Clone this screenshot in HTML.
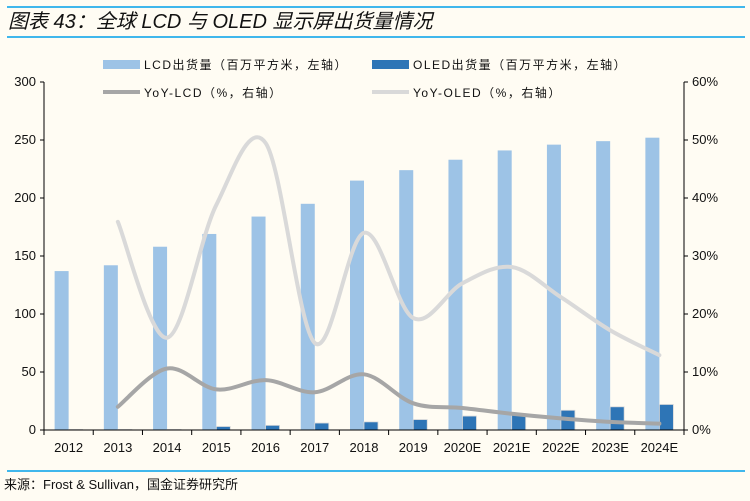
<!DOCTYPE html>
<html><head><meta charset="utf-8">
<style>
body{margin:0;background:#fffcf3;width:750px;height:496px;overflow:hidden;font-family:"Liberation Sans","Noto Sans CJK SC",sans-serif;}
</style></head><body>
<svg id="c" width="750" height="496" xmlns="http://www.w3.org/2000/svg" style="font-family:'Liberation Sans','Noto Sans CJK SC',sans-serif">
<rect width="750" height="496" fill="#fffcf3"/>
<line x1="7" y1="7" x2="745" y2="7" stroke="#00a0e9" stroke-width="1.5"/>
<text x="8" y="28" font-size="20" font-style="italic" fill="#111">图表 43：全球 LCD 与 OLED 显示屏出货量情况</text>
<line x1="7" y1="37" x2="745" y2="37" stroke="#00a0e9" stroke-width="1.5"/>
<line x1="7" y1="471" x2="745" y2="471" stroke="#00a0e9" stroke-width="1.5"/>
<text x="4" y="489" font-size="13" fill="#111">来源：Frost &amp; Sullivan，国金证券研究所</text>
<g font-size="12" fill="#111" letter-spacing="1.5">
<rect x="103" y="60" width="37" height="9" fill="#9dc3e6"/><text x="144" y="69">LCD出货量（百万平方米，左轴）</text>
<rect x="372" y="60" width="37" height="9" fill="#2e75b6"/><text x="413" y="69">OLED出货量（百万平方米，左轴）</text>
<line x1="103" y1="92" x2="140" y2="92" stroke="#a6a6a6" stroke-width="4"/><text x="144" y="97">YoY-LCD（%，右轴）</text>
<line x1="372" y1="92" x2="409" y2="92" stroke="#d9d9d9" stroke-width="4"/><text x="413" y="97">YoY-OLED（%，右轴）</text>
</g>
<g id="g"></g>
</svg>
<script>
const categories=["2012","2013","2014","2015","2016","2017","2018","2019","2020E","2021E","2022E","2023E","2024E"];
const lcdValues=[137,142,158,169,184,195,215,224,233,241,246,249,252];
const oledValues=[0.5,0.5,0.5,3,4,6,7,9,12,14,17,20,22];
const yoyLcd=[null,4.0,10.6,7.0,8.6,6.5,9.6,4.6,3.8,2.8,2.0,1.4,1.1];
const yoyOled=[null,35.9,15.9,38.8,49.5,15.0,34.0,19.3,25.3,28.1,22.9,17.2,12.9];
const leftTicks=[0,50,100,150,200,250,300];
const rightTicks=[0,10,20,30,40,50,60];
const L=44,R=684,T=82,B=430;
const bw=(R-L)/categories.length;
const yL=v=>B-(v/300)*(B-T);
const yR=v=>B-(v/60)*(B-T);
const xc=i=>L+bw*(i+0.5);
const g=document.getElementById('g');
const NS="http://www.w3.org/2000/svg";
function mk(t,a,p){const e=document.createElementNS(NS,t);for(const k in a)e.setAttribute(k,a[k]);(p||g).appendChild(e);return e;}
categories.forEach((c,i)=>{
 let r=mk('rect',{x:xc(i)-14,y:yL(lcdValues[i]),width:14,height:B-yL(lcdValues[i]),fill:'#9dc3e6'});
 
 let o=mk('rect',{x:xc(i),y:yL(oledValues[i]),width:14,height:B-yL(oledValues[i]),fill:'#2e75b6',stroke:'#d9d9d9','stroke-width':0.8});
 
 let t=mk('text',{x:xc(i),y:452,'font-size':13,'text-anchor':'middle',fill:'#111'});t.textContent=c;
 
 mk('line',{x1:L+bw*i,y1:B,x2:L+bw*i,y2:B+5,stroke:'#000'});
});
mk('line',{x1:R,y1:B,x2:R,y2:B+5,stroke:'#000'});
mk('line',{x1:L,y1:T,x2:L,y2:B,stroke:'#000'});
mk('line',{x1:R,y1:T,x2:R,y2:B,stroke:'#000'});
mk('line',{x1:L,y1:B,x2:R,y2:B,stroke:'#000'});
leftTicks.forEach(v=>{mk('line',{x1:L-4,y1:yL(v),x2:L,y2:yL(v),stroke:'#000'});
 let t=mk('text',{x:L-8,y:yL(v)+4,'font-size':13,'text-anchor':'end',fill:'#111'});t.textContent=v;
 });
rightTicks.forEach(v=>{mk('line',{x1:R,y1:yR(v),x2:R+4,y2:yR(v),stroke:'#000'});
 let t=mk('text',{x:R+8,y:yR(v)+4,'font-size':13,fill:'#111'});t.textContent=v+'%';
 });
function smooth(vals,color,name){
 const p=[];vals.forEach((v,i)=>{if(v!=null)p.push([xc(i),yR(v)]);});
 let d='M'+p[0][0]+','+p[0][1];
 for(let i=0;i<p.length-1;i++){const p0=p[i-1]||p[i],p1=p[i],p2=p[i+1],p3=p[i+2]||p2;
  d+=' C'+(p1[0]+(p2[0]-p0[0])/6)+','+(p1[1]+(p2[1]-p0[1])/6)+' '+(p2[0]-(p3[0]-p1[0])/6)+','+(p2[1]-(p3[1]-p1[1])/6)+' '+p2[0]+','+p2[1];}
 const e=mk('path',{d:d,fill:'none',stroke:color,'stroke-width':4,'stroke-linecap':'round'});
 
}
smooth(yoyOled,'#d9d9d9','yoy-oled-line');
smooth(yoyLcd,'#a6a6a6','yoy-lcd-line');
</script>
</body></html>
